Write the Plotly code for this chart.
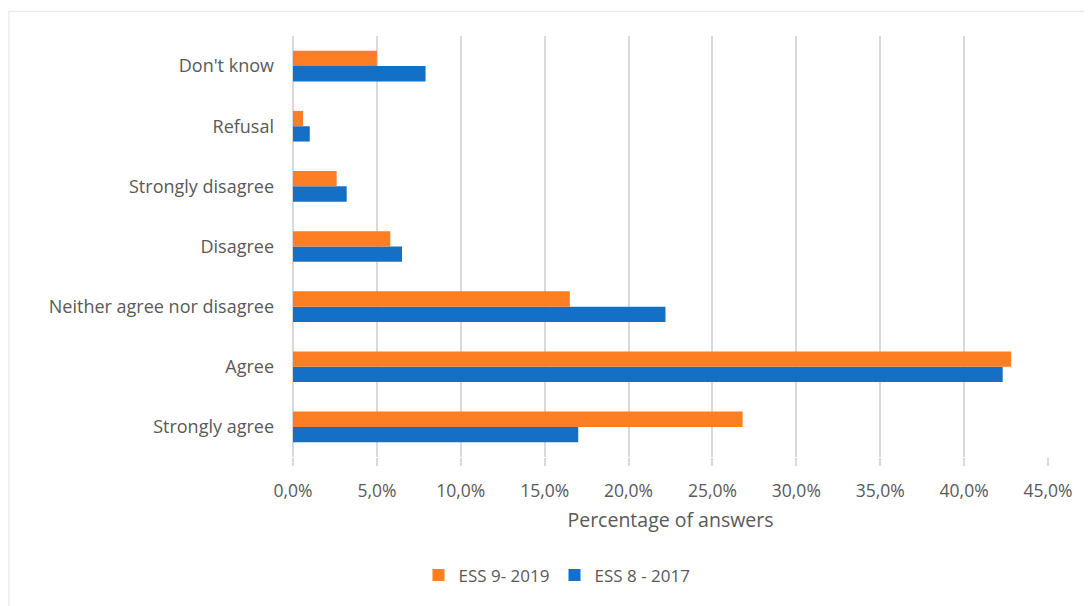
import plotly.graph_objects as go

categories = ["Strongly agree", "Agree", "Neither agree nor disagree", "Disagree",
              "Strongly disagree", "Refusal", "Don't know"]
ess9_2019 = [26.8, 42.8, 16.5, 5.8, 2.6, 0.6, 5.0]
ess8_2017 = [17.0, 42.3, 22.2, 6.5, 3.2, 1.0, 7.9]
x_ticks = [0, 5, 10, 15, 20, 25, 30, 35, 40, 45]
x_tick_labels = ["0,0%", "5,0%", "10,0%", "15,0%", "20,0%", "25,0%", "30,0%", "35,0%", "40,0%", "45,0%"]

BLUE = "#1470C6"
ORANGE = "#FD7E23"
TEXT = "#595959"
GRID = "#D9D9D9"
FONT = "Open Sans"

fig = go.Figure()
fig.add_trace(go.Bar(y=categories, x=ess8_2017, orientation="h", name="ESS 8 - 2017",
                     marker=dict(color=BLUE, line=dict(width=0)), legendrank=2))
fig.add_trace(go.Bar(y=categories, x=ess9_2019, orientation="h", name="ESS 9- 2019",
                     marker=dict(color=ORANGE, line=dict(width=0)), legendrank=1))

# page has an 8px body margin; work in page pixels and shift
OFF = 8
W, H = 1084, 598
L = 293 - OFF
T = 36 - OFF
plot_right = 1048 - OFF
plot_bottom = 460.5 - OFF
R = W - plot_right
B = H - plot_bottom
pw = plot_right - L
ph = plot_bottom - T

def px_x(p):
    return (p - OFF - L) / pw

def px_y(p):
    return (plot_bottom - (p - OFF)) / ph

fig.update_layout(
    width=W, height=H,
    margin=dict(l=L, r=R, t=T, b=B),
    paper_bgcolor="white", plot_bgcolor="white",
    barmode="group", bargap=0.49, bargroupgap=0,
    font=dict(family=FONT, color=TEXT, size=17),
    showlegend=True,
    legend=dict(orientation="h", x=px_x(557), xanchor="center", y=px_y(580), yanchor="middle",
                font=dict(size=17, color=TEXT), itemwidth=30, traceorder="normal"),
    xaxis=dict(range=[0, 45], tickvals=x_ticks, ticktext=x_tick_labels,
               showgrid=True, gridcolor=GRID, gridwidth=1.5, zeroline=True, zerolinecolor=GRID,
               zerolinewidth=1.5, showline=False, ticks="outside", ticklen=8, tickcolor=GRID,
               tickwidth=1.5, ticklabelstandoff=10,
               tickfont=dict(size=17.5, color=TEXT),
               title=dict(text="Percentage of answers", font=dict(size=19.5, color=TEXT), standoff=12)),
    yaxis=dict(showgrid=False, showline=False, ticks="", ticklabelstandoff=18,
               tickfont=dict(size=18, color=TEXT), categoryorder="array", categoryarray=categories),
    shapes=[dict(type="rect", xref="paper", yref="paper",
                 x0=px_x(9), x1=px_x(1110), y0=px_y(640), y1=px_y(11),
                 line=dict(color="#E3E3E3", width=1), layer="below")],
)

fig.write_html("out.html")
